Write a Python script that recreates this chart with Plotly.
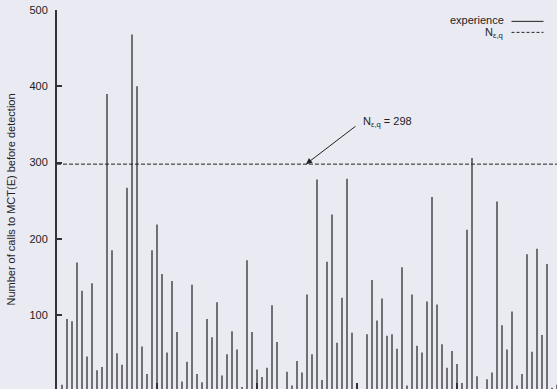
import plotly.graph_objects as go

# Number of calls to MCT(E) before detection, one value per run
runs = list(range(1, 101))
calls = [
    9, 95, 92, 169, 132, 46, 142, 28, 32, 390,
    185, 50, 35, 267, 468, 400, 59, 23, 185, 219,
    154, 51, 145, 78, 13, 39, 140, 23, 12, 95,
    71, 117, 21, 49, 79, 55, 6, 172, 78, 29,
    19, 31, 113, 65, 0, 26, 8, 40, 25, 127,
    49, 278, 15, 170, 232, 64, 123, 279, 77, 0,
    0, 75, 146, 93, 122, 73, 75, 56, 163, 8,
    127, 60, 51, 118, 255, 114, 62, 31, 53, 36,
    11, 212, 306, 20, 0, 16, 25, 249, 87, 55,
    105, 8, 23, 180, 52, 187, 74, 167, 5, 9,
]
N_EQ = 298

y_ticks = [100, 200, 300, 400, 500]
x_ticks = [0, 20, 40, 60, 80, 100]

FONT = "Liberation Sans, Arial, Helvetica, sans-serif"
BG = "#eaeaf3"
AXIS = "#333333"
BAR = "#6f6f74"

# impulse lines: one vertical segment per run
xs, ys = [], []
for r, c in zip(runs, calls):
    xs += [r, r, None]
    ys += [0, c, None]

fig = go.Figure()
fig.add_trace(go.Scatter(
    x=xs, y=ys, mode="lines",
    line=dict(color=BAR, width=2),
    showlegend=False, hoverinfo="skip",
))

# threshold line
fig.add_shape(type="line", xref="paper", x0=0, x1=1, yref="y", y0=N_EQ, y1=N_EQ,
              line=dict(color="#222222", width=1, dash="4px,2px"))

# key (text on the left, sample on the right)
fig.add_shape(type="line", xref="paper", yref="paper", x0=0.909, x1=0.973, y0=0.970, y1=0.970,
              line=dict(color="#222222", width=1))
fig.add_shape(type="line", xref="paper", yref="paper", x0=0.909, x1=0.973, y0=0.941, y1=0.941,
              line=dict(color="#222222", width=1, dash="3px,2px"))
fig.add_annotation(xref="paper", yref="paper", x=0.895, y=0.973, xanchor="right", yanchor="middle",
                   text="experience", showarrow=False, borderpad=0,
                   font=dict(family=FONT, size=11, color="#222222"))
fig.add_annotation(xref="paper", yref="paper", x=0.894, y=0.938, xanchor="right", yanchor="middle",
                   text="N<sub>ε,q</sub>", showarrow=False, borderpad=0,
                   font=dict(family=FONT, size=11, color="#222222"))

# arrow pointing at the threshold
fig.add_annotation(x=49.8, y=N_EQ, xref="x", yref="y", text="", showarrow=True,
                   ax=51, ay=-39, arrowhead=2, arrowsize=1.2, arrowwidth=1,
                   arrowcolor="#222222", standoff=0, startstandoff=0)
fig.add_annotation(xref="paper", yref="paper", x=0.61, y=0.704, xanchor="left", yanchor="middle",
                   text=f"N<sub>ε,q</sub> = {N_EQ}", showarrow=False, borderpad=0,
                   font=dict(family=FONT, size=11, color="#222222"))

fig.update_layout(
    width=557, height=389,
    margin=dict(l=57, r=0, t=10, b=0),
    paper_bgcolor=BG, plot_bgcolor=BG,
    font=dict(family=FONT, size=11, color="#222222"),
    showlegend=False,
)
fig.update_xaxes(
    range=[0, 100], showgrid=False, zeroline=False, showline=False,
    tickvals=x_ticks, ticks="inside", ticklen=6, tickwidth=2, tickcolor=AXIS,
    showticklabels=False,
)
fig.update_yaxes(
    range=[3.3, 500], showgrid=False, zeroline=False,
    showline=True, linecolor=AXIS, linewidth=2,
    tickvals=y_ticks, ticks="inside", ticklen=5, tickwidth=1.5, tickcolor=AXIS,
    ticklabelstandoff=5,
    tickfont=dict(family=FONT, size=11, color="#222222"),
    title=dict(text="Number of calls to MCT(E) before detection",
               font=dict(family=FONT, size=11, color="#222222"), standoff=12),
)

fig.write_html("out.html")
